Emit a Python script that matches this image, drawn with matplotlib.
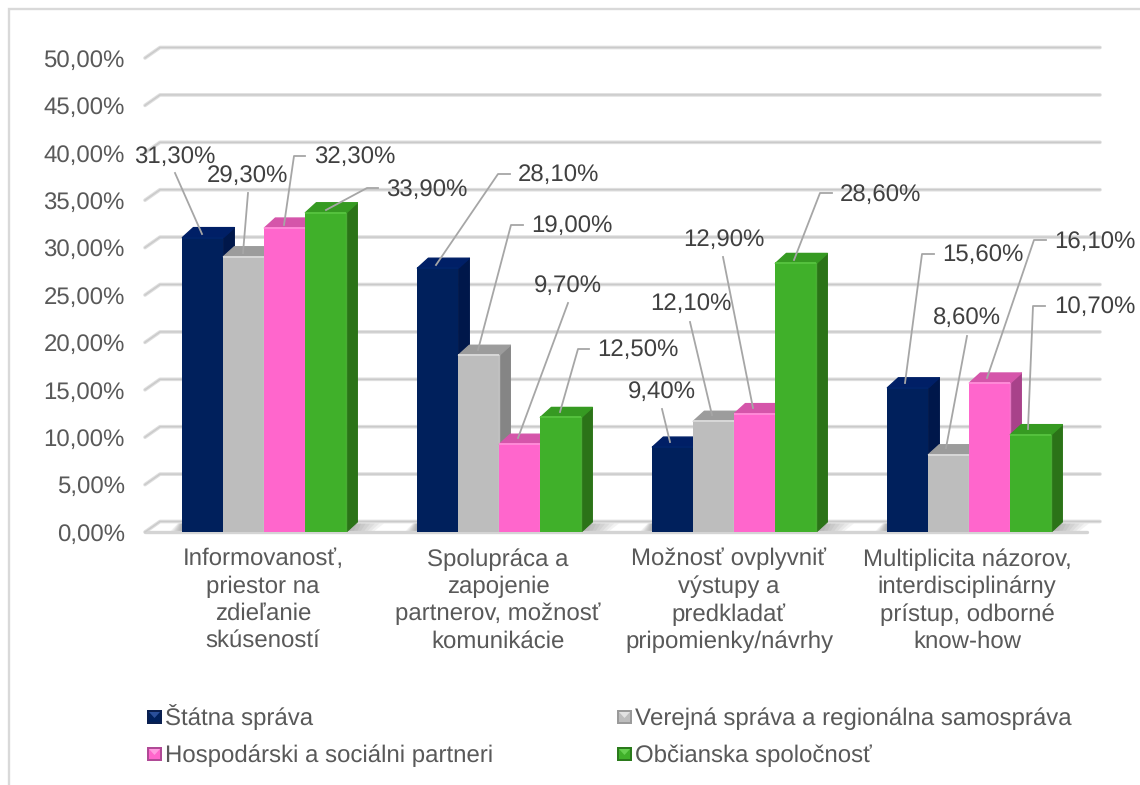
import numpy as np
import matplotlib
matplotlib.use('Agg')
import matplotlib.pyplot as plt
from matplotlib.patches import Polygon, Rectangle

plt.rcParams['font.family'] = ['Liberation Sans', 'DejaVu Sans']
plt.rcParams['text.hinting'] = 'no_hinting'
plt.rcParams['text.hinting_factor'] = 1

categories = [
    'Informovanosť,\npriestor na\nzdieľanie\nskúseností',
    'Spolupráca a\nzapojenie\npartnerov, možnosť\nkomunikácie',
    'Možnosť ovplyvniť\nvýstupy a\npredkladať\npripomienky/návrhy',
    'Multiplicita názorov,\ninterdisciplinárny\nprístup, odborné\nknow-how',
]
series_names = [
    'Štátna správa',
    'Verejná správa a regionálna samospráva',
    'Hospodárski a sociálni partneri',
    'Občianska spoločnosť',
]
statna = [31.3, 28.1, 9.4, 15.6]
verejna = [29.3, 19.0, 12.1, 8.6]
hospodarski = [32.3, 9.7, 12.9, 16.1]
obcianska = [33.9, 12.5, 28.6, 10.7]
y_ticks = [0, 5, 10, 15, 20, 25, 30, 35, 40, 45, 50]

front_colors = ['#00205c', '#bdbdbd', '#ff66cc', '#40b02a']
side_colors = ['#00174a', '#858585', '#a8428a', '#2b7318']
top_colors = ['#001f66', '#9c9c9c', '#d555aa', '#369a22']
light_colors = ['#00246a', '#d8d8d8', '#ff8ad8', '#55c23e']
legend_rims = ['#0a1f4f', '#9a9a9a', '#b04a96', '#2b7a1c']
legend_tops = ['#2a4f9a', '#e2e2e2', '#ff9ce0', '#66d050']

# label centre and leader path, in picture pixels, same order as the series
label_pos = [
    [(175, 157), (558, 175), (662, 392), (983, 255)],
    [(247, 176), (572, 226), (691, 304), (967, 318)],
    [(355, 157), (568, 286), (724, 240), (1095, 242)],
    [(427, 190), (638, 350), (880, 195), (1095, 307)],
]
leader_paths = [
    [[(175, 173), (202, 234)], [(510, 174), (498, 174), (436, 265)],
     [(662, 409), (670, 442)], [(934, 254), (922, 254), (905, 383)]],
    [[(248, 193), (243, 253)], [(523, 225), (511, 225), (478, 350)],
     [(690, 322), (712, 415)], [(967, 336), (946, 448)]],
    [[(305, 156), (294, 156), (284, 225)], [(568, 303), (518, 438)],
     [(723, 257), (753, 408)], [(1046, 240), (1034, 240), (987, 378)]],
    [[(378, 188), (367, 188), (326, 210)], [(589, 349), (578, 349), (560, 412)],
     [(832, 193), (820, 193), (794, 260)], [(1045, 306), (1033, 306), (1028, 429)]],
]
cat_centres = [263, 498, 729, 967]

W, H = 1140, 785
FONT = 17.3
TICK_COL = '#595959'


def fx(x):
    return x / W


def fy(y):
    return 1 - y / H


def pct(v):
    return f'{v:.2f}'.replace('.', ',') + '%'


fig = plt.figure(figsize=(W / 100, H / 100), dpi=100, facecolor='white')
fig.add_artist(Rectangle((fx(9), fy(800)), 1.1, fy(9) - fy(800), transform=fig.transFigure,
                         fill=False, ec='#d9d9d9', lw=1.7))

rect = [fx(145), fy(532), fx(1085) - fx(145), fy(58) - fy(532)]

# grid axes: the walls and the value axis
grid_ax = fig.add_axes(rect)
grid_ax.set_xlim(0, 4)
grid_ax.set_ylim(0, 50)
grid_ax.patch.set_alpha(0)
for s in grid_ax.spines.values():
    s.set_visible(False)
grid_ax.set_xticks([])
grid_ax.set_yticks(y_ticks, [pct(t) for t in y_ticks], fontsize=FONT, color=TICK_COL)
grid_ax.tick_params(axis='y', length=0, pad=14.5)

wall_dx = 15 / 235
wall_dy = 10.5 / 9.48
for t in y_ticks:
    xs = [0, wall_dx, 4 + wall_dx]
    ys = [t, t + wall_dy, t + wall_dy]
    grid_ax.plot(xs, ys, color='#dedede', lw=2.6, clip_on=False, solid_capstyle='round', zorder=1)
    grid_ax.plot(xs, ys, color='#cacaca', lw=1.0, clip_on=False, zorder=1.1)
grid_ax.plot([0, 4 + 2 / 235], [0, 0], color='#d4d4d4', lw=2.4, clip_on=False, zorder=1,
             solid_capstyle='round')

# bar axes: the bars sit slightly lower on the floor than the ticks say
bar_ax = fig.add_axes(rect)
bar_ax.set_xlim(0, 4)
bar_ax.set_ylim((537 - 532) / 9.565, (537 - 58) / 9.565)
bar_ax.axis('off')
y0 = bar_ax.get_ylim()[0]

series = [statna, verejna, hospodarski, obcianska]
bar_w = 41.0 / 235
depth_x = 11 / 235
depth_y = 10 / 9.565

for g in range(len(categories)):
    left = g + 0.5 + 0.008 - 2 * bar_w
    # floor shadow fading away from the foot of each group
    for k in np.linspace(1.0, 0.15, 8):
        bar_ax.add_patch(Polygon([(left - 0.05 * k, y0 + 0.12), (left + 4 * bar_w + 0.12 * k, y0 + 0.12),
                                  (left + 4 * bar_w + 0.16 * k, y0 + depth_y * 0.85),
                                  (left - 0.02 * k, y0 + depth_y * 0.85)],
                                 closed=True, fc='#666666', ec='none', alpha=0.08, zorder=1, clip_on=False))
    for s, vals in enumerate(series):
        v = vals[g]
        x0 = left + s * bar_w
        x1 = x0 + bar_w
        z = 2 + g * 10 + s
        bar_ax.add_patch(Polygon([(x1, y0), (x1 + depth_x, y0 + depth_y), (x1 + depth_x, v + depth_y), (x1, v)],
                                 closed=True, fc=side_colors[s], ec=side_colors[s], lw=0.8, joinstyle='round', zorder=z))
        bar_ax.add_patch(Polygon([(x0, v), (x0 + depth_x, v + depth_y), (x1 + depth_x, v + depth_y), (x1, v)],
                                 closed=True, fc=top_colors[s], ec=top_colors[s], lw=1.0, joinstyle='round', zorder=z))
        bar_ax.bar(x0, v - y0, width=bar_w, bottom=y0, align='edge', color=front_colors[s], zorder=z)
        bar_ax.plot([x0, x1], [v, v], color=light_colors[s], lw=1.4, zorder=z, solid_capstyle='butt')
        if s in (1, 2, 3):
            bar_ax.plot([x1, x1], [y0, v], color=light_colors[s], lw=1.0, alpha=0.7, zorder=z)

# data labels and leader lines on top of everything
for s, vals in enumerate(series):
    for g, v in enumerate(vals):
        path = leader_paths[s][g]
        fig.add_artist(plt.Line2D([fx(p[0]) for p in path], [fy(p[1]) for p in path],
                                  transform=fig.transFigure, color='#a6a6a6', lw=1.3, zorder=5))
        lx, ly = label_pos[s][g]
        fig.text(fx(lx), fy(ly), pct(v), fontsize=FONT, color='#404040', ha='center', va='center', zorder=6)

for c, cx in zip(categories, cat_centres):
    fig.text(fx(cx), fy(548), c, fontsize=FONT, color=TICK_COL, ha='center', va='top',
             linespacing=1.28, multialignment='center')

# legend
leg_x = [147, 617]
leg_y = [717, 754]
for s, name in enumerate(series_names):
    mx = leg_x[s % 2]
    my = leg_y[s // 2]
    fig.add_artist(Rectangle((fx(mx), fy(my + 7)), 15 / W, 14 / H, transform=fig.transFigure,
                             fc=legend_rims[s], ec='none'))
    fig.add_artist(Rectangle((fx(mx + 2), fy(my + 5)), 11 / W, 10 / H, transform=fig.transFigure,
                             fc=front_colors[s], ec='none'))
    fig.add_artist(Polygon([(fx(mx + 2), fy(my - 5)), (fx(mx + 13), fy(my - 5)), (fx(mx + 7.5), fy(my + 1))],
                           closed=True, transform=fig.transFigure, fc=legend_tops[s], ec='none'))
    fig.text(fx(mx + 18), fy(my + 8), name, fontsize=FONT, color=TICK_COL, ha='left', va='baseline')

fig.savefig('out.png', dpi=100)
